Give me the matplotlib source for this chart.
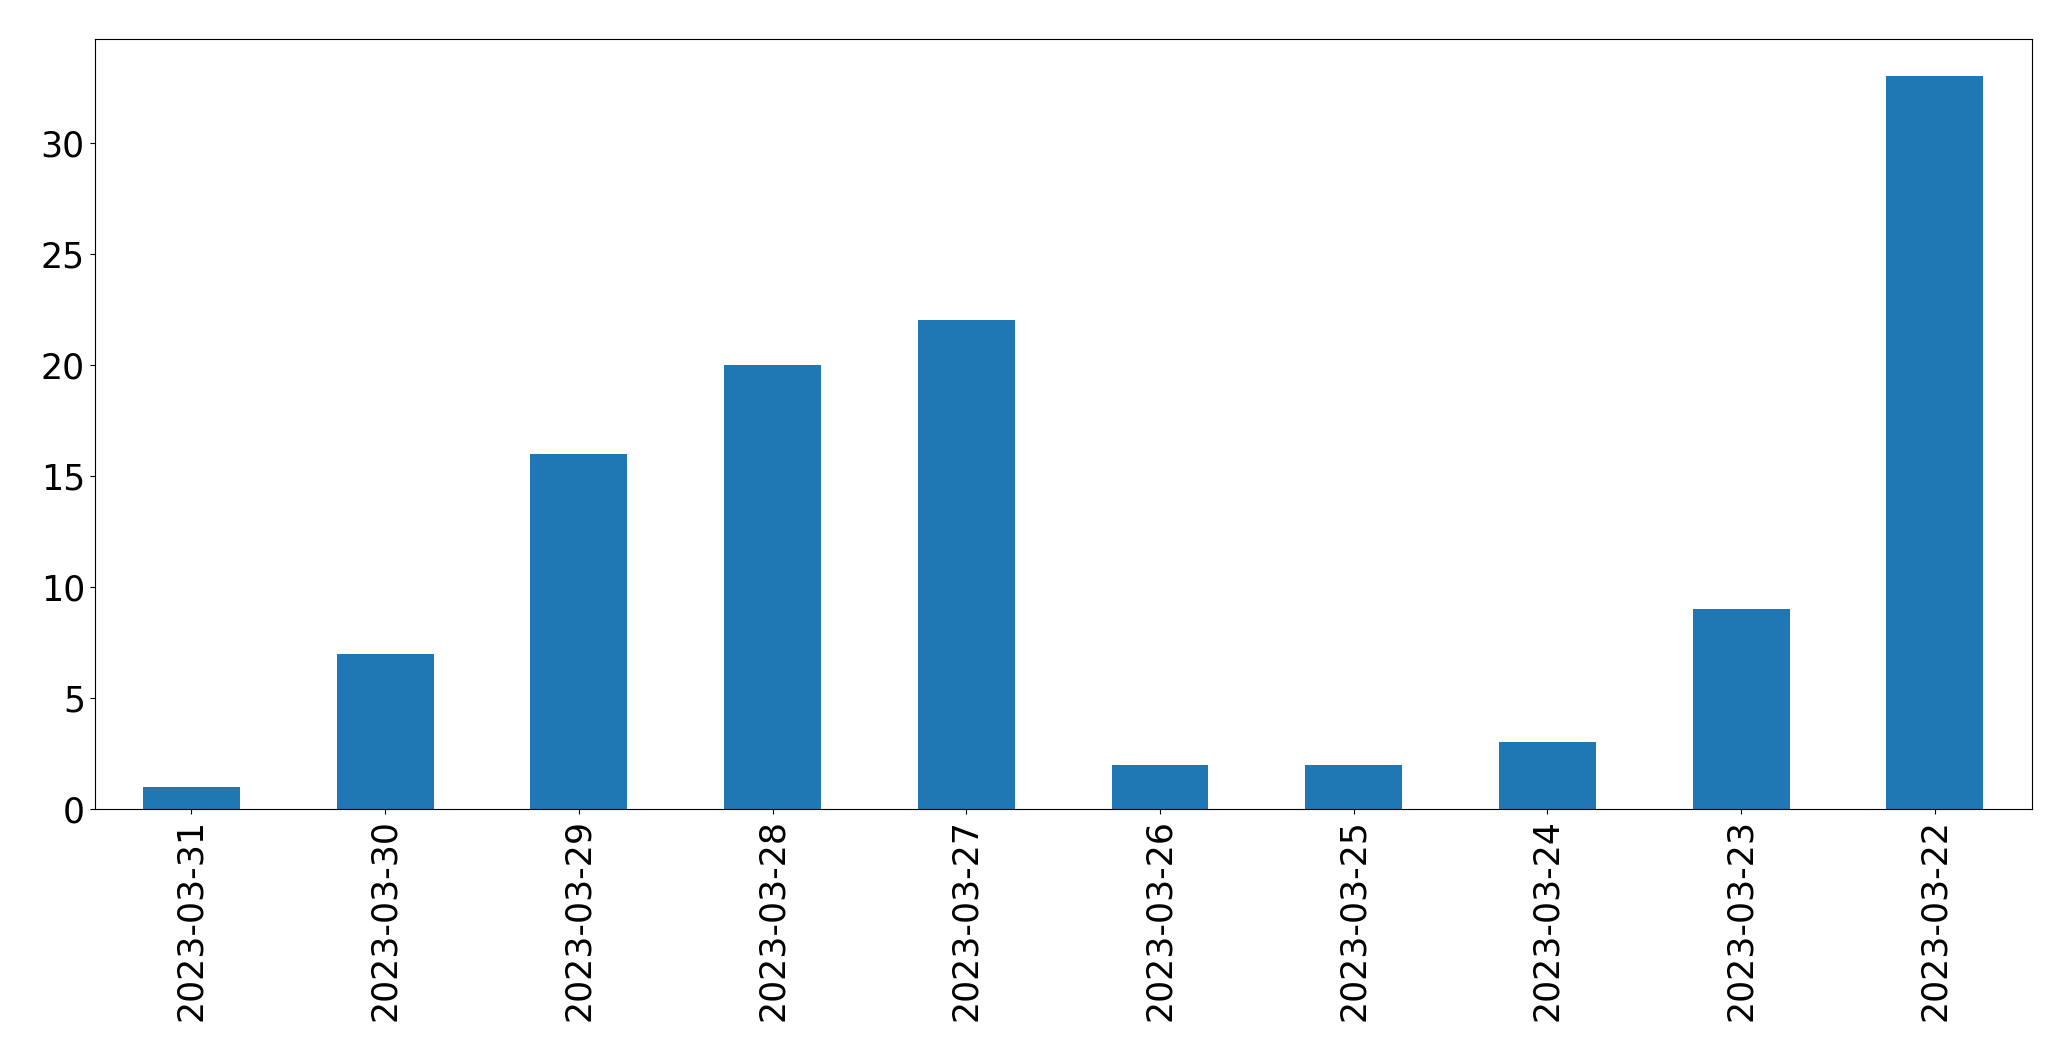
import matplotlib
matplotlib.use("Agg")
import matplotlib.pyplot as plt
import pandas as pd

# daily counts, newest first (as in the source)
dates = ['2023-03-31', '2023-03-30', '2023-03-29', '2023-03-28', '2023-03-27',
         '2023-03-26', '2023-03-25', '2023-03-24', '2023-03-23', '2023-03-22']
counts = [1, 7, 16, 20, 22, 2, 2, 3, 9, 33]

s = pd.Series(counts, index=dates)

fig = plt.figure(figsize=(20.71, 10.61), dpi=100)
ax = fig.add_axes([0.0457, 0.2375, 0.9353, 0.7255])
s.plot(kind='bar', ax=ax, color='#1f77b4', fontsize=25)
ax.set_xlabel('')

fig.savefig('out.png', dpi=100)
